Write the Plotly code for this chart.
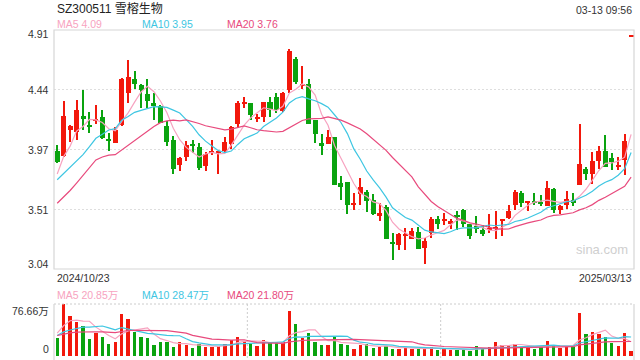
import plotly.graph_objects as go
import pandas as pd

# ---------------- data ----------------
title_text = "SZ300511 雪榕生物"
time_text = "03-13 09:56"
date_first = "2024/10/23"
date_last = "2025/03/13"
price_tick_vals = [4.91, 4.4425, 3.975, 3.5075, 3.04]
price_tick_text = ["4.91", "4.44", "3.97", "3.51", "3.04"]
vol_max = 76.66
vol_tick_text = ["76.66万", "0"]

opens = [3.967, 3.923, 4.126, 4.113, 4.240, 4.162, 4.204, 4.232, 4.061, 4.024,
         4.165, 4.414, 4.528, 4.482, 4.411, 4.341, 4.315, 4.162, 4.053, 3.853,
         3.918, 4.017, 3.998, 3.845, 3.952, 3.949, 3.962, 4.017, 4.178, 4.333,
         4.339, 4.214, 4.227, 4.349, 4.385, 4.279, 4.443, 4.681, 4.479, 4.487,
         4.204, 4.027, 4.017, 4.069, 3.713, 3.718, 3.541, 3.627, 3.643, 3.580,
         3.461, 3.528, 3.248, 3.230, 3.300, 3.274, 3.328, 3.206, 3.320, 3.430,
         3.419, 3.393, 3.461, 3.500, 3.391, 3.380, 3.344, 3.349, 3.352, 3.417,
         3.437, 3.541, 3.635, 3.557, 3.570, 3.562, 3.533, 3.663, 3.500, 3.544,
         3.580, 3.694, 3.819, 3.783, 3.887, 3.967, 3.905, 3.840, 3.892, 4.860]
highs = [4.011, 4.354, 4.167, 4.359, 4.443, 4.271, 4.323, 4.281, 4.107, 4.152,
         4.531, 4.674, 4.593, 4.485, 4.523, 4.417, 4.323, 4.198, 4.084, 3.913,
         4.043, 4.053, 4.027, 3.959, 4.053, 3.959, 4.074, 4.157, 4.354, 4.383,
         4.341, 4.255, 4.349, 4.385, 4.417, 4.422, 4.759, 4.700, 4.632, 4.523,
         4.204, 4.100, 4.131, 4.069, 3.767, 3.723, 3.632, 3.752, 3.658, 3.627,
         3.559, 3.539, 3.320, 3.320, 3.357, 3.362, 3.367, 3.284, 3.445, 3.453,
         3.476, 3.432, 3.492, 3.508, 3.393, 3.458, 3.388, 3.471, 3.492, 3.430,
         3.544, 3.661, 3.650, 3.575, 3.632, 3.622, 3.731, 3.671, 3.539, 3.650,
         3.637, 4.172, 3.840, 3.959, 4.004, 4.092, 3.944, 3.913, 4.100, 4.860]
lows = [3.871, 3.913, 4.032, 4.053, 4.126, 4.105, 4.172, 4.060, 3.965, 4.022,
        4.160, 4.339, 4.450, 4.302, 4.300, 4.204, 4.185, 4.004, 3.783, 3.804,
        3.882, 3.944, 3.814, 3.804, 3.933, 3.783, 3.954, 3.980, 4.146, 4.302,
        4.206, 4.193, 4.193, 4.229, 4.263, 4.271, 4.417, 4.489, 4.448, 4.172,
        4.022, 3.931, 4.017, 3.697, 3.578, 3.471, 3.502, 3.544, 3.484, 3.466,
        3.414, 3.276, 3.113, 3.191, 3.191, 3.274, 3.193, 3.076, 3.284, 3.354,
        3.388, 3.354, 3.344, 3.367, 3.271, 3.323, 3.295, 3.320, 3.274, 3.300,
        3.430, 3.502, 3.528, 3.497, 3.541, 3.536, 3.533, 3.481, 3.474, 3.513,
        3.533, 3.694, 3.736, 3.705, 3.819, 3.840, 3.814, 3.817, 3.775, 4.860]
closes = [3.876, 4.240, 4.162, 4.287, 4.211, 4.157, 4.214, 4.063, 4.040, 4.131,
          4.528, 4.544, 4.484, 4.440, 4.352, 4.313, 4.185, 4.032, 3.822, 3.905,
          4.014, 4.009, 3.832, 3.939, 3.965, 3.957, 4.030, 4.154, 4.341, 4.346,
          4.242, 4.229, 4.349, 4.287, 4.287, 4.414, 4.746, 4.500, 4.489, 4.172,
          4.094, 4.001, 4.069, 3.697, 3.682, 3.541, 3.554, 3.684, 3.575, 3.471,
          3.476, 3.276, 3.232, 3.310, 3.310, 3.336, 3.193, 3.263, 3.430, 3.393,
          3.430, 3.414, 3.453, 3.393, 3.300, 3.354, 3.315, 3.359, 3.372, 3.430,
          3.495, 3.643, 3.557, 3.567, 3.554, 3.549, 3.671, 3.502, 3.531, 3.591,
          3.557, 3.861, 3.780, 3.887, 3.967, 3.840, 3.874, 3.850, 4.045, 4.860]
# closes of the 19 sessions before the window
prior_closes = [3.24, 3.16, 3.12, 3.04, 2.94, 2.99, 3.60, 3.75, 4.05, 3.81,
                3.76, 3.69, 3.78, 3.70, 3.535, 3.56, 3.75, 3.70, 4.03]

volumes = [27.2, 76.66, 59.0, 49.9, 44.9, 25.7, 33.3, 28.7, 18.1, 21.2,
           62.0, 54.4, 34.8, 28.7, 27.2, 16.6, 20.2, 21.2, 13.6, 20.2,
           16.6, 12.1, 17.6, 13.6, 13.6, 14.6, 17.6, 23.7, 28.7, 22.7,
           18.1, 15.1, 23.7, 18.6, 20.2, 20.2, 66.5, 46.9, 26.2, 33.3,
           20.2, 16.6, 16.6, 28.7, 18.1, 16.6, 10.6, 16.6, 18.1, 12.1,
           13.6, 14.6, 10.6, 10.6, 12.1, 10.6, 10.6, 10.6, 13.6, 9.1,
           10.6, 9.1, 9.1, 9.1, 7.6, 15.1, 10.6, 13.6, 21.2, 16.6,
           15.1, 18.1, 13.6, 13.6, 10.6, 13.6, 22.7, 15.1, 12.1, 13.6,
           13.6, 63.5, 31.8, 34.8, 31.8, 28.7, 19.7, 15.1, 33.3, 7.6]
prior_volumes = [28, 32, 26, 35, 30, 27, 33, 29, 31, 31,
                 24, 30, 26, 28, 25, 22, 23, 45, 52]

ma_labels = ["MA5 4.09", "MA10 3.95", "MA20 3.76"]
vol_ma_labels = ["MA5 20.85万", "MA10 28.47万", "MA20 21.80万"]
ma_windows = [5, 10, 20]

# ---------------- styling ----------------
RED = "#f2180c"
GREEN = "#0aa30f"
MA_COLORS = ["#f7a3c0", "#3ec6e2", "#e84a7d"]
BORDER = "#d6d6d6"
GRID = "#dedede"
FONT = "Liberation Sans, Arial, Noto Sans CJK SC, sans-serif"

W, H = 640, 360
X0, X1 = 54, 634
MAIN_TOP, MAIN_BOT = 30, 269
VOL_TOP, VOL_BOT = 304, 356

def px(x):
    return x / W

def py(y):
    return 1 - y / H

n = len(closes)
idx = list(range(n))
colors = [RED if c >= o else GREEN for o, c in zip(opens, closes)]

all_closes = pd.Series(prior_closes + closes)
all_vols = pd.Series(prior_volumes + volumes)
np_ = len(prior_closes)
price_mas = [all_closes.rolling(w).mean().iloc[np_:].tolist() for w in ma_windows]
vol_mas = [all_vols.rolling(w).mean().iloc[np_:].tolist() for w in ma_windows]

fig = go.Figure()

# wicks
fig.add_trace(go.Bar(
    x=idx, y=[h - l for h, l in zip(highs, lows)], base=lows,
    width=0.16, marker=dict(color=colors, line=dict(width=0)),
    xaxis="x", yaxis="y", hoverinfo="skip", showlegend=False))
# bodies
body_base = [min(o, c) for o, c in zip(opens, closes)]
body_h = [max(abs(c - o), 0.008) for o, c in zip(opens, closes)]
fig.add_trace(go.Bar(
    x=idx, y=body_h, base=body_base,
    width=0.78, marker=dict(color=colors, line=dict(width=0)),
    xaxis="x", yaxis="y", hoverinfo="skip", showlegend=False))

for ma, col in zip(price_mas, MA_COLORS):
    fig.add_trace(go.Scatter(x=idx, y=ma, mode="lines",
                             line=dict(color=col, width=1.2),
                             xaxis="x", yaxis="y", hoverinfo="skip", showlegend=False))

# volume
fig.add_trace(go.Bar(
    x=idx, y=volumes, width=0.52,
    marker=dict(color=colors, line=dict(width=0)),
    xaxis="x2", yaxis="y2", hoverinfo="skip", showlegend=False))
for ma, col in zip(vol_mas, MA_COLORS):
    fig.add_trace(go.Scatter(x=idx, y=ma, mode="lines",
                             line=dict(color=col, width=1.2),
                             xaxis="x2", yaxis="y2", hoverinfo="skip", showlegend=False))

xr = [-0.5, n - 0.55]
fig.update_layout(
    width=W, height=H, margin=dict(l=0, r=0, t=0, b=0),
    paper_bgcolor="white", plot_bgcolor="white",
    barmode="overlay", bargap=0,
    font=dict(family=FONT, size=10.5, color="#333"),
    xaxis=dict(domain=[px(X0), px(X1)], range=xr, showticklabels=False,
               showgrid=False, zeroline=False, showline=False, fixedrange=True),
    yaxis=dict(domain=[py(MAIN_BOT), py(MAIN_TOP)], range=[price_tick_vals[-1], price_tick_vals[0]],
               tickvals=price_tick_vals[1:-1], showticklabels=False,
               showgrid=True, gridcolor=GRID, griddash="2px,2px", gridwidth=1,
               zeroline=False, showline=False),
    xaxis2=dict(domain=[px(X0), px(X1)], range=xr, showticklabels=False,
                showgrid=False, zeroline=False, showline=False, anchor="y2"),
    yaxis2=dict(domain=[py(VOL_BOT), py(VOL_TOP)], range=[0, vol_max],
                showticklabels=False, showgrid=False, zeroline=False, showline=False,
                anchor="x2"),
)

shapes = [
    dict(type="rect", xref="paper", yref="paper", x0=px(X0), x1=px(X1),
         y0=py(MAIN_BOT), y1=py(MAIN_TOP), line=dict(color=BORDER, width=1.2), layer="above"),
    dict(type="line", xref="paper", yref="paper", x0=px(X0), x1=px(X1),
         y0=py(VOL_TOP), y1=py(VOL_TOP), line=dict(color="#cccccc", width=1, dash="2px,2px")),
    dict(type="line", xref="paper", yref="paper", x0=px(X0), x1=px(X0),
         y0=py(VOL_TOP), y1=0, line=dict(color=BORDER, width=1.2)),
    dict(type="line", xref="paper", yref="paper", x0=px(X1), x1=px(X1),
         y0=py(VOL_TOP), y1=0, line=dict(color=BORDER, width=1.2)),
]
for k in (1, 2):
    xv = X0 + (X1 - X0) * k / 3
    shapes.append(dict(type="line", xref="paper", yref="paper", x0=px(xv), x1=px(xv),
                       y0=py(VOL_TOP), y1=0, line=dict(color="#cccccc", width=1, dash="2px,2px"),
                       layer="below"))
fig.update_layout(shapes=shapes)

ann = []
def text(x, y, s, color="#333", size=10.5, xanchor="left", family=FONT):
    ann.append(dict(xref="paper", yref="paper", x=px(x), y=py(y), text=s, showarrow=False,
                    xanchor=xanchor, yanchor="middle", font=dict(color=color, size=size, family=family)))

text(55, 8, title_text, color="#222", size=12)
text(634, 10, time_text, color="#333", xanchor="right")
for lab, col, xx in zip(ma_labels, MA_COLORS, [55, 140, 225]):
    text(xx, 24, lab, color=col)
label_y = [34, 90, 150, 210, 263.5]
for lab, yy in zip(price_tick_text, label_y):
    text(50.5, yy, lab, color="#333", xanchor="right")
text(55, 278, date_first, color="#333")
text(634, 278, date_last, color="#333", xanchor="right")
for lab, col, xx in zip(vol_ma_labels, MA_COLORS, [55, 140, 225]):
    text(xx, 294.5, lab, color=col)
text(50.5, 311, vol_tick_text[0], color="#333", xanchor="right")
text(50.5, 348.5, vol_tick_text[1], color="#333", xanchor="right")
text(602, 249.5, "sina.com", color="#cfcfcf", size=13, xanchor="center")
fig.update_layout(annotations=ann)

fig.write_html("out.html")
